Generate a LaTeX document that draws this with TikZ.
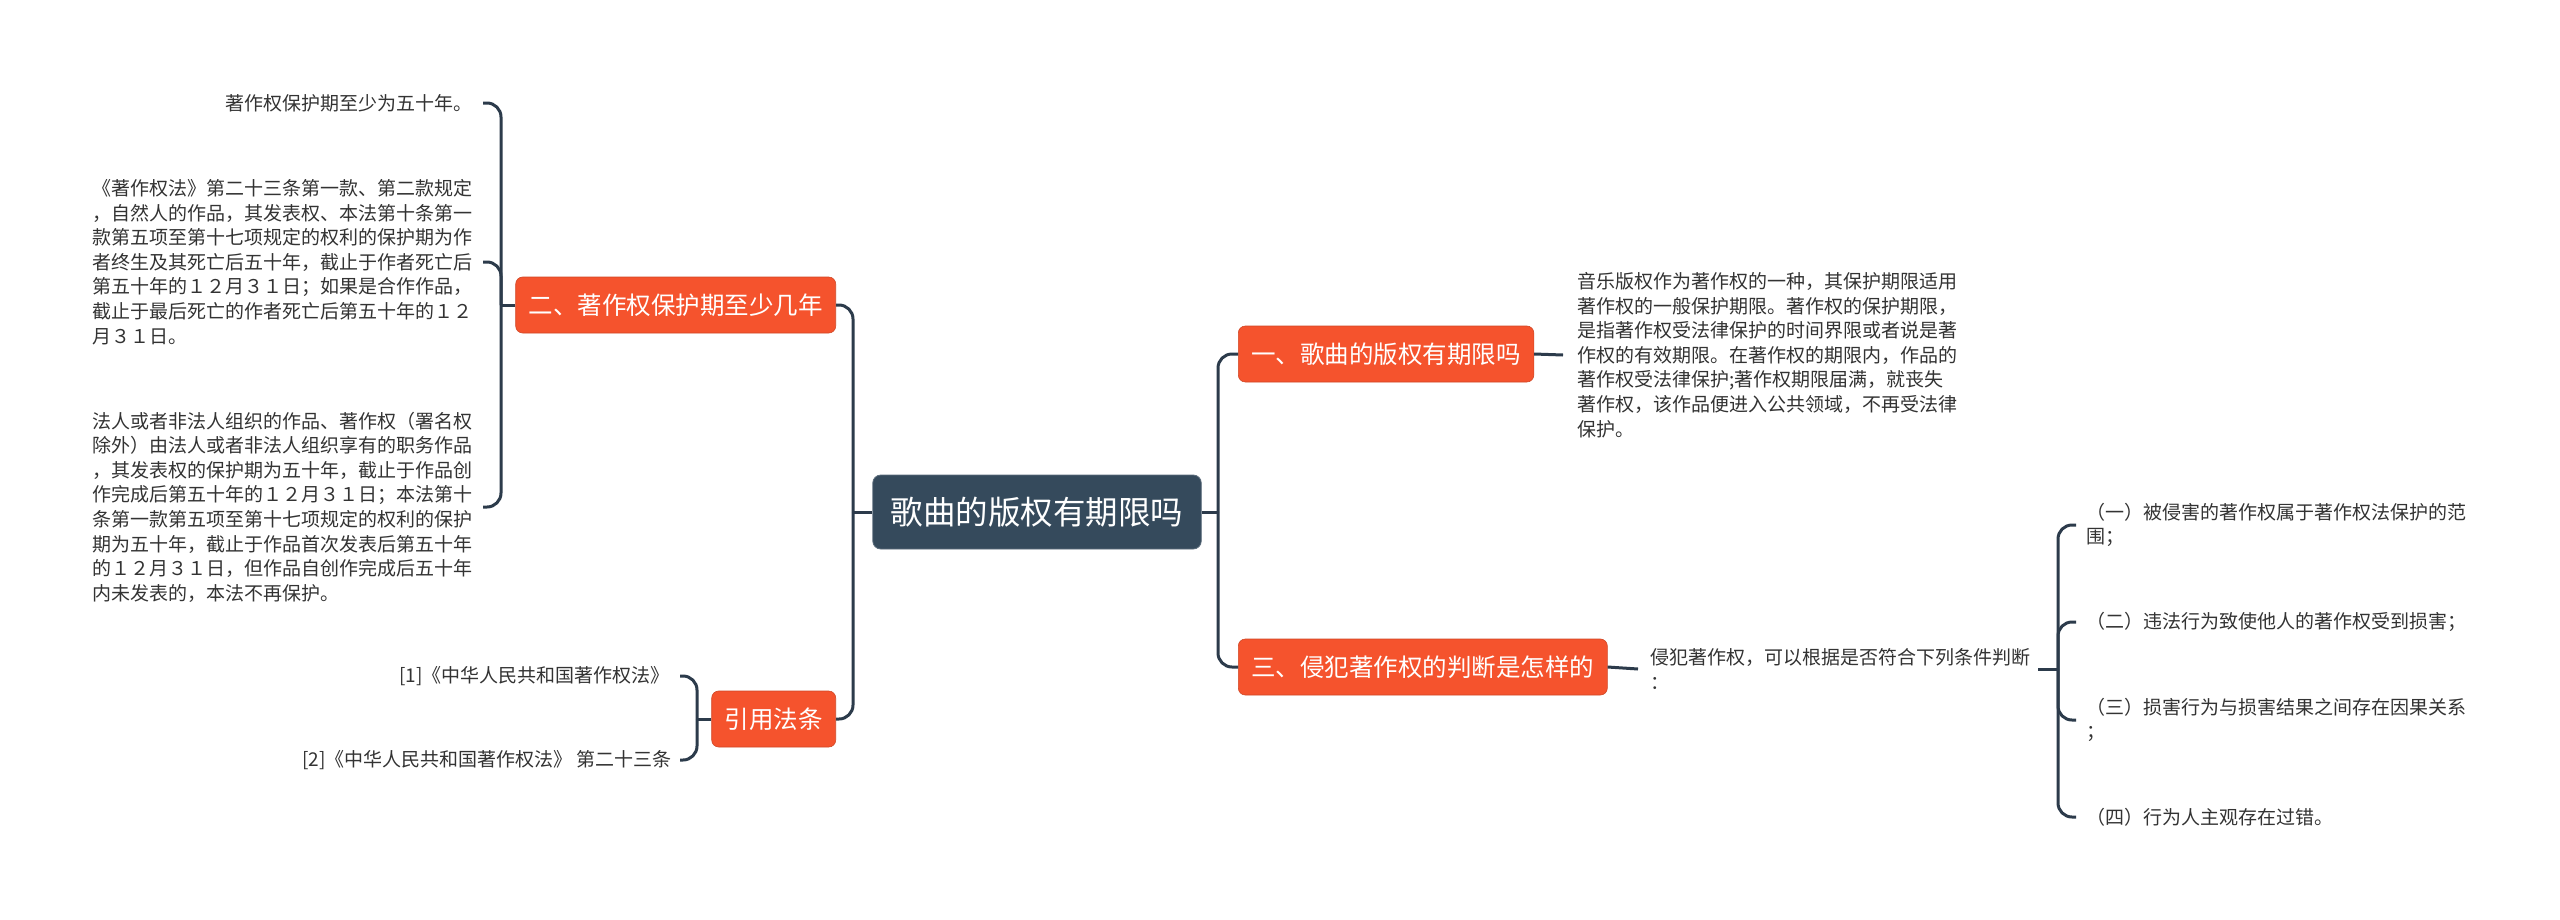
\documentclass[tikz,border=0pt]{standalone}
\usepackage{fontspec}
\setmainfont{Noto Sans CJK SC}
\definecolor{orng}{HTML}{F5532D}
\definecolor{rootc}{HTML}{354A5C}
\definecolor{linec}{HTML}{2C3B4B}
\definecolor{textc}{HTML}{333333}
\begin{document}
\begin{tikzpicture}[x=1pt,y=-1pt,
  conn/.style={draw=linec, line width=3pt},
  roundconn/.style={conn, rounded corners=14pt},
  branch/.style={fill=orng, draw=orng!85!black, line width=0.6pt, text=white, rounded corners=7pt, inner xsep=13pt, inner ysep=0pt, minimum height=56pt, font=\fontsize{24.5}{28}\selectfont},
  rootbox/.style={fill=rootc, draw=rootc!80!white, line width=0.8pt, text=white, rounded corners=8pt, inner xsep=18pt, inner ysep=0pt, minimum height=74pt, font=\fontsize{32.5}{38}\selectfont},
  leaf/.style={text=textc, inner sep=0pt, align=left, font=\fontsize{19}{24.6}\selectfont}]
\useasboundingbox (0,0) rectangle (2560,919);
\fill[white] (0,0) rectangle (2560,919);

% root and branches
\node[rootbox] (root) at (1037,512) {歌曲的版权有期限吗};
\node[branch, anchor=west] (b1) at (1238,354) {一、歌曲的版权有期限吗};
\node[branch, anchor=west] (b3) at (1238,667) {三、侵犯著作权的判断是怎样的};
\node[branch, anchor=east] (b2) at (836,305) {二、著作权保护期至少几年};
\node[branch, anchor=east] (ref) at (836,719) {引用法条};

% left leaves of branch 2
\node[leaf, anchor=east] (c1) at (473,103) {著作权保护期至少为五十年。};
\node[leaf, anchor=east] (c2) at (473,262) {《著作权法》第二十三条第一款、第二款规定\\，自然人的作品，其发表权、本法第十条第一\\款第五项至第十七项规定的权利的保护期为作\\者终生及其死亡后五十年，截止于作者死亡后\\第五十年的１２月３１日；如果是合作作品，\\截止于最后死亡的作者死亡后第五十年的１２\\月３１日。};
\node[leaf, anchor=east] (c3) at (473,507) {法人或者非法人组织的作品、著作权（署名权\\除外）由法人或者非法人组织享有的职务作品\\，其发表权的保护期为五十年，截止于作品创\\作完成后第五十年的１２月３１日；本法第十\\条第一款第五项至第十七项规定的权利的保护\\期为五十年，截止于作品首次发表后第五十年\\的１２月３１日，但作品自创作完成后五十年\\内未发表的，本法不再保护。};

% references
\node[leaf, anchor=east] (r1) at (670,676) {[1]《中华人民共和国著作权法》};
\node[leaf, anchor=east] (r2) at (672,760) {[2]《中华人民共和国著作权法》 第二十三条};

% right leaves
\node[leaf, anchor=west] (t1) at (1577,355) {音乐版权作为著作权的一种，其保护期限适用\\著作权的一般保护期限。著作权的保护期限，\\是指著作权受法律保护的时间界限或者说是著\\作权的有效期限。在著作权的期限内，作品的\\著作权受法律保护;著作权期限届满，就丧失\\著作权，该作品便进入公共领域，不再受法律\\保护。};
\node[leaf, anchor=west] (t3) at (1650,669) {侵犯著作权，可以根据是否符合下列条件判断\\：};
\node[leaf, anchor=west] (d1) at (2086,525) {（一）被侵害的著作权属于著作权法保护的范\\围；};
\node[leaf, anchor=west] (d2) at (2086,622) {（二）违法行为致使他人的著作权受到损害；};
\node[leaf, anchor=west] (d3) at (2086,720) {（三）损害行为与损害结果之间存在因果关系\\；};
\node[leaf, anchor=west] (d4) at (2086,817) {（四）行为人主观存在过错。};

% junctions
\coordinate (jr) at (1218,512);
\coordinate (jl) at (853,512);
\coordinate (j2) at (501,305);
\coordinate (j4) at (697,719);
\coordinate (j3) at (2058,669);

% root connectors
\draw[conn] (root.east) -- (jr);
\draw[roundconn] (jr) |- (b1.west);
\draw[roundconn] (jr) |- (b3.west);
\draw[conn] (root.west) -- (jl);
\draw[roundconn] (jl) |- (b2.east);
\draw[roundconn] (jl) |- (ref.east);

% branch 2 connectors
\draw[conn] (b2.west) -- (j2);
\draw[roundconn] (j2) |- ([xshift=10pt]c1.east);
\draw[roundconn] (j2) |- ([xshift=10pt]c2.east);
\draw[roundconn] (j2) |- ([xshift=10pt]c3.east);

% reference connectors
\draw[conn] (ref.west) -- (j4);
\draw[roundconn] (j4) |- ([xshift=10pt]r1.east);
\draw[roundconn] (j4) |- ([xshift=8pt]r2.east);

% right connectors
\draw[conn] (b1.east) -- ([xshift=-14pt]t1.west);
\draw[conn] (b3.east) -- ([xshift=-12pt]t3.west);
\draw[conn] ([xshift=8pt]t3.east) -- (j3);
\draw[roundconn] (j3) |- ([xshift=-10pt]d1.west);
\draw[roundconn] (j3) |- ([xshift=-10pt]d2.west);
\draw[roundconn] (j3) |- ([xshift=-10pt]d3.west);
\draw[roundconn] (j3) |- ([xshift=-10pt]d4.west);
\end{tikzpicture}
\end{document}
